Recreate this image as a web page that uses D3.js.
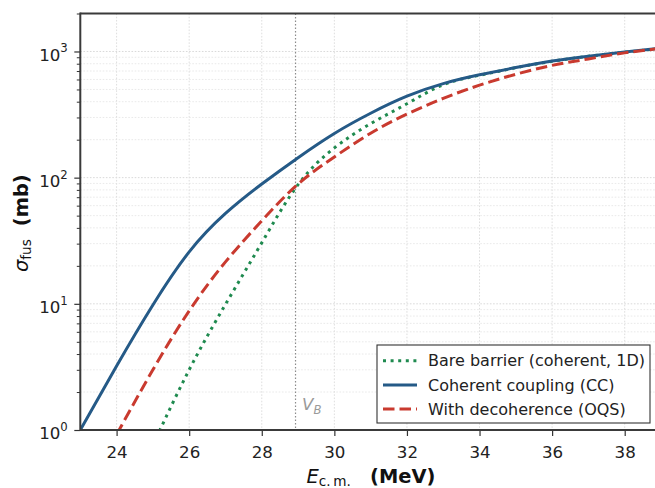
<!DOCTYPE html>
<html>
<head>
<meta charset="utf-8">
<script src="https://cdn.jsdelivr.net/npm/d3@7"></script>
<style>
  html, body { margin: 0; padding: 0; background: #fff; overflow: hidden; }
  svg { display: block; font-family: "DejaVu Sans", sans-serif; }
</style>
</head>
<body>
<svg id="chart" width="655" height="488"></svg>
<script>
// Centre-of-mass energies (MeV) at which the cross sections are sampled
const energy = [23, 24, 25, 26, 27, 28, 29, 30, 31, 32, 33, 34, 35, 36, 37, 38, 39];

// Fusion cross sections (mb); null where the curve lies below the plotted range
const sigmaBare = [null, null, 0.76, 3.0, 9.9, 30.5, 88, 172, 268, 385, 545, 648, 744, 836, 916, 986, 1058];
const sigmaCC   = [1.0, 3.22, 9.8, 25.8, 52, 89, 144, 224, 324, 442, 556, 653, 746, 840, 918, 989, 1062];
const sigmaOQS  = [null, 0.92, 3.0, 8.8, 21.5, 45.5, 89, 146, 225, 319, 425, 541, 660, 776, 873, 975, 1058];

const seriesLabels = ["Bare barrier (coherent, 1D)", "Coherent coupling (CC)", "With decoherence (OQS)"];

// Axis ticks
const xTicks = [24, 26, 28, 30, 32, 34, 36, 38];
const yDecades = [0, 1, 2, 3];

// Coulomb barrier height (MeV)
const barrierEnergy = 28.93;

const svg = d3.select("#chart");
const frame = { left: 80.3, right: 661, top: 13.5, bottom: 430 };

const x = d3.scaleLinear().domain([23, 39]).range([frame.left, frame.right]);
const y = d3.scaleLog().domain([1, 2000]).range([frame.bottom, frame.top]);

const majorY = yDecades.map(p => Math.pow(10, p));
const minorY = [];
yDecades.forEach(p => { for (let k = 2; k <= 9; k++) { const v = k * Math.pow(10, p); if (v <= 2000) minorY.push(v); } });

svg.append("defs").append("clipPath").attr("id", "plotClip")
  .append("rect")
  .attr("x", frame.left).attr("y", frame.top)
  .attr("width", frame.right - frame.left).attr("height", frame.bottom - frame.top);

// Grid
const grid = svg.append("g").attr("clip-path", "url(#plotClip)");
grid.selectAll("line.minor-y").data(minorY).join("line")
  .attr("x1", frame.left).attr("x2", frame.right)
  .attr("y1", d => y(d)).attr("y2", d => y(d))
  .attr("stroke", "#e3e3e3").attr("stroke-width", 0.8).attr("stroke-dasharray", "1.6,1.6");
grid.selectAll("line.major-y").data(majorY).join("line")
  .attr("x1", frame.left).attr("x2", frame.right)
  .attr("y1", d => y(d)).attr("y2", d => y(d))
  .attr("stroke", "#d9d9d9").attr("stroke-width", 1).attr("stroke-dasharray", "1.6,1.6");
grid.selectAll("line.major-x").data(xTicks).join("line")
  .attr("x1", d => x(d)).attr("x2", d => x(d))
  .attr("y1", frame.top).attr("y2", frame.bottom)
  .attr("stroke", "#dedede").attr("stroke-width", 1).attr("stroke-dasharray", "1.6,1.6");

// Barrier marker
svg.append("line")
  .attr("x1", x(barrierEnergy)).attr("x2", x(barrierEnergy))
  .attr("y1", frame.top).attr("y2", frame.bottom)
  .attr("stroke", "#8c8c8c").attr("stroke-width", 1.2).attr("stroke-dasharray", "1.5,2");

const vb = svg.append("text")
  .attr("x", x(barrierEnergy) + 6.5).attr("y", 410)
  .attr("fill", "#9a9a9a").attr("font-size", 16.67);
vb.append("tspan").attr("font-style", "italic").text("V");
vb.append("tspan").attr("font-style", "italic").attr("font-size", 11.7).attr("dy", 3.5).text("B");

// Curves
const series = [
  { values: sigmaBare, color: "#1f8a4f", dash: "3,4.6" },
  { values: sigmaCC,   color: "#255a87", dash: null },
  { values: sigmaOQS,  color: "#c93a2f", dash: "11.5,5" }
];

const line = d3.line()
  .defined(d => d[1] != null)
  .x(d => x(d[0]))
  .y(d => y(d[1]))
  .curve(d3.curveNatural);

const curves = svg.append("g").attr("clip-path", "url(#plotClip)");
series.forEach(s => {
  curves.append("path")
    .datum(energy.map((e, i) => [e, s.values[i]]))
    .attr("d", line)
    .attr("fill", "none")
    .attr("stroke", s.color)
    .attr("stroke-width", 3)
    .attr("stroke-dasharray", s.dash);
});

// Axes
const xAxis = svg.append("g")
  .attr("transform", `translate(0,${frame.bottom})`)
  .call(d3.axisBottom(x).tickValues(xTicks).tickFormat(d3.format("d")).tickSize(6).tickPadding(10));
xAxis.select(".domain").remove();
xAxis.selectAll(".tick line").attr("stroke", "#333").attr("stroke-width", 1.2);
xAxis.selectAll(".tick text").attr("font-size", 16.67).attr("fill", "#222").attr("font-family", "DejaVu Sans");

const yMinor = svg.append("g")
  .attr("transform", `translate(${frame.left},0)`)
  .call(d3.axisLeft(y).tickValues(minorY).tickFormat("").tickSize(3.5));
yMinor.select(".domain").remove();
yMinor.selectAll(".tick line").attr("stroke", "#333").attr("stroke-width", 1);

const yAxis = svg.append("g")
  .attr("transform", `translate(${frame.left},0)`)
  .call(d3.axisLeft(y).tickValues(majorY).tickFormat("").tickSize(6));
yAxis.select(".domain").remove();
yAxis.selectAll(".tick line").attr("stroke", "#333").attr("stroke-width", 1.2);
yAxis.selectAll(".tick").each(function (d) {
  const t = d3.select(this).select("text")
    .attr("x", -12.5).attr("dy", null).attr("y", 8.7)
    .attr("text-anchor", "end").attr("font-size", 16.67).attr("fill", "#222")
    .attr("font-family", "DejaVu Sans").text(null);
  t.append("tspan").text("10");
  t.append("tspan").attr("font-size", 11.7).attr("dy", -8.3).text(String(Math.round(Math.log10(d))));
});

// Spines
const spine = svg.append("g").attr("stroke", "#3a3a3a").attr("stroke-width", 2).attr("fill", "none");
spine.append("line").attr("x1", frame.left).attr("x2", frame.left).attr("y1", frame.top - 1).attr("y2", frame.bottom + 1);
spine.append("line").attr("x1", frame.left).attr("x2", frame.right).attr("y1", frame.top).attr("y2", frame.top);
spine.append("line").attr("x1", frame.left).attr("x2", frame.right).attr("y1", frame.bottom).attr("y2", frame.bottom);
spine.append("line").attr("x1", frame.right).attr("x2", frame.right).attr("y1", frame.top).attr("y2", frame.bottom);

// Axis titles
const xTitle = svg.append("text")
  .attr("x", 306.5).attr("y", 483.2)
  .attr("font-size", 19.44).attr("fill", "#111");
xTitle.append("tspan").attr("font-style", "italic").text("E");
xTitle.append("tspan").attr("font-size", 13.6).attr("dy", 2.6).text("c.\u2009m.");
xTitle.append("tspan").attr("x", 370).attr("dy", -2.6).attr("font-weight", "bold").text("(MeV)");

const yTitle = svg.append("text")
  .attr("transform", "translate(27.5,272) rotate(-90)")
  .attr("font-size", 19.44).attr("fill", "#111");
yTitle.append("tspan").attr("font-style", "italic").text("\u03c3");
yTitle.append("tspan").attr("font-size", 13.6).attr("dy", 3.2).text("fus");
yTitle.append("tspan").attr("dy", -3.2).attr("dx", 13).attr("font-weight", "bold").text("(mb)");

// Legend
const legend = svg.append("g");
legend.append("rect")
  .attr("x", 377).attr("y", 345).attr("width", 273).attr("height", 78)
  .attr("fill", "#fff").attr("stroke", "#333").attr("stroke-width", 1.1);
seriesLabels.forEach((label, i) => {
  const cy = 360.7 + i * 24.2;
  legend.append("line")
    .attr("x1", 383).attr("x2", 417).attr("y1", cy).attr("y2", cy)
    .attr("stroke", series[i].color).attr("stroke-width", 3)
    .attr("stroke-dasharray", series[i].dash);
  legend.append("text")
    .attr("x", 428).attr("y", cy + 5.7)
    .attr("font-size", 16).attr("fill", "#222").text(label);
});
</script>
</body>
</html>
